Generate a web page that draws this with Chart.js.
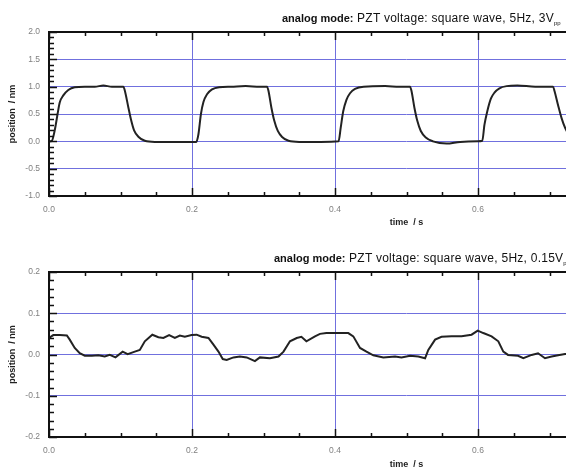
<!DOCTYPE html>
<html>
<head>
<meta charset="utf-8">
<script src="https://cdn.jsdelivr.net/npm/chart.js@4"></script>
<style>
    body { margin: 0; background: #fff; }
    #page { position: relative; width: 566px; height: 472px; overflow: hidden; background: #fff; }
    #page canvas { position: absolute; left: 0; }
    .title { position: absolute; white-space: nowrap; font-family: "Liberation Sans", Arial, sans-serif; color: #111; }
    .title b { font-size: 11px; }
    .title span { font-size: 12px; letter-spacing: 0.25px; }
    .title sub { font-size: 6px; vertical-align: -3px; letter-spacing: 0; }
</style>
</head>
<body>
<div id="page">
    <canvas id="chartTop" width="790" height="236" style="top:0"></canvas>
    <canvas id="chartBottom" width="790" height="232" style="top:240px"></canvas>
    <div class="title" style="left:282px; top:8px"><b>analog mode:</b><span> PZT voltage: square wave, 5Hz, 3V<sub>pp</sub></span></div>
    <div class="title" style="left:274px; top:248px"><b>analog mode:</b><span> PZT voltage: square wave, 5Hz, 0.15V<sub>pp</sub></span></div>
</div>
<script>
/* DATA */

// 3 Vpp square wave response
var topTimes = [
    0.000, 0.004, 0.008, 0.012, 0.015, 0.020, 0.027, 0.036, 0.050, 0.064, 0.076, 0.088, 0.104,
    0.106, 0.111, 0.115, 0.119, 0.125, 0.134, 0.148, 0.180, 0.206,
    0.209, 0.2125, 0.216, 0.221, 0.228, 0.238, 0.255, 0.275, 0.295, 0.305,
    0.307, 0.311, 0.315, 0.320, 0.326, 0.335, 0.350, 0.380, 0.405,
    0.408, 0.4115, 0.416, 0.421, 0.428, 0.440, 0.470, 0.490, 0.505,
    0.507, 0.511, 0.515, 0.520, 0.527, 0.537, 0.556, 0.575, 0.600, 0.606,
    0.609, 0.613, 0.618, 0.623, 0.630, 0.640, 0.655, 0.680, 0.705,
    0.707, 0.712, 0.717, 0.722, 0.728, 0.735
];
var topPositions = [
    0.00, 0.01, 0.20, 0.50, 0.71, 0.84, 0.94, 0.99, 1.00, 1.00, 1.02, 1.00, 1.00,
    0.93, 0.62, 0.38, 0.20, 0.085, 0.01, -0.01, -0.01, -0.01,
    0.13, 0.50, 0.72, 0.86, 0.95, 0.99, 1.00, 1.01, 1.00, 1.00,
    0.92, 0.62, 0.38, 0.19, 0.08, 0.01, -0.01, -0.01, 0.00,
    0.25, 0.55, 0.76, 0.88, 0.96, 1.00, 1.01, 1.00, 1.00,
    0.92, 0.62, 0.38, 0.19, 0.07, 0.00, -0.04, -0.01, 0.00, 0.01,
    0.30, 0.55, 0.78, 0.89, 0.97, 1.01, 1.02, 1.00, 1.00,
    0.92, 0.66, 0.42, 0.24, 0.10, 0.02
];

// 0.15 Vpp square wave response
var bottomTimes = [
    0.000, 0.006, 0.015, 0.025, 0.029, 0.036, 0.043, 0.050, 0.060, 0.069, 0.078, 0.085, 0.093,
    0.103, 0.110, 0.120, 0.127, 0.134, 0.1445, 0.153, 0.160, 0.168, 0.176, 0.183, 0.190, 0.1995,
    0.2065, 0.2135, 0.223, 0.230, 0.237, 0.243, 0.2485, 0.258, 0.267, 0.2765, 0.288, 0.295,
    0.309, 0.321, 0.328, 0.337, 0.3465, 0.353, 0.360, 0.372, 0.379, 0.388, 0.400, 0.4186,
    0.4256, 0.435, 0.444, 0.4536, 0.4676, 0.484, 0.493, 0.505, 0.5165, 0.526, 0.5305, 0.540,
    0.549, 0.563, 0.577, 0.591, 0.5996, 0.6074, 0.619, 0.6284, 0.6354, 0.642, 0.656, 0.6634,
    0.675, 0.684, 0.6937, 0.703, 0.712, 0.7217, 0.730
];
var bottomPositions = [
    0.040, 0.047, 0.047, 0.046, 0.036, 0.016, 0.003, -0.003, -0.003, -0.002, -0.005, -0.001, -0.007,
    0.007, 0.001, 0.007, 0.011, 0.032, 0.048, 0.042, 0.040, 0.047, 0.040, 0.046, 0.043, 0.047,
    0.048, 0.043, 0.040, 0.024, 0.007, -0.011, -0.013, -0.007, -0.005, -0.007, -0.016, -0.007,
    -0.009, -0.005, 0.007, 0.032, 0.040, 0.043, 0.032, 0.044, 0.050, 0.052, 0.052, 0.052,
    0.044, 0.016, 0.007, -0.002, -0.007, -0.005, -0.007, -0.003, -0.005, -0.009, 0.011, 0.036,
    0.043, 0.044, 0.044, 0.048, 0.058, 0.052, 0.044, 0.032, 0.007, -0.001, -0.003, -0.009,
    -0.001, 0.003, -0.009, -0.005, -0.002, 0.001, 0.002
];

(() => {
    /* STYLE */

    var gridBlue = 'rgb(112, 112, 222)';
    var fontFamily = '"Liberation Sans", Arial, sans-serif';

    /* PRIVATE */

    var isMultiple = (value, step) => Math.abs(value / step - Math.round(value / step)) < 1e-6;

    // frame + inward tick marks, placed through the scales (edge grid lines end up under the frame)
    var framePlugin = {
        id: 'frame',
        afterDatasetsDraw: (chart, args, opts) => {
            var ctx = chart.ctx;
            var area = chart.chartArea;
            var xScale = chart.scales.x;
            var yScale = chart.scales.y;

            ctx.save();
            ctx.strokeStyle = '#111';
            ctx.lineWidth = 1.5;
            ctx.beginPath();

            var nx = Math.round((xScale.max - xScale.min) / opts.xMinor);
            for (var i = 0; i <= nx; i++) {
                var xv = xScale.min + i * opts.xMinor;
                var px = Math.round(xScale.getPixelForValue(xv)) + 0.5;
                var xl = isMultiple(xv, opts.xMajor) ? 8 : 4;
                ctx.moveTo(px, area.bottom);
                ctx.lineTo(px, area.bottom - xl);
                ctx.moveTo(px, area.top);
                ctx.lineTo(px, area.top + xl);
            }

            var ny = Math.round((yScale.max - yScale.min) / opts.yMinor);
            for (var j = 0; j <= ny; j++) {
                var yv = yScale.min + j * opts.yMinor;
                var py = Math.round(yScale.getPixelForValue(yv)) + 0.5;
                var yl = isMultiple(yv, opts.yMajor) ? 8 : 5;
                ctx.moveTo(area.left, py);
                ctx.lineTo(area.left + yl, py);
                ctx.moveTo(area.right, py);
                ctx.lineTo(area.right - yl, py);
            }
            ctx.stroke();

            ctx.lineWidth = 2;
            ctx.strokeRect(area.left, area.top, area.right - area.left, area.bottom - area.top);
            ctx.restore();
        }
    };

    var getChartConfiguration = (settings) => {
        return {
            type: 'line',
            data: {
                datasets: [
                    {
                        data: settings.times.map((t, index) => ({ x: t, y: settings.positions[index] })),
                        borderColor: '#222',
                        borderWidth: 2,
                        pointRadius: 0,
                        fill: false,
                        tension: settings.tension,
                        cubicInterpolationMode: settings.tension > 0 ? 'monotone' : 'default'
                    }
                ]
            },
            plugins: [framePlugin],
            options: {
                responsive: false,
                animation: false,
                devicePixelRatio: 1,
                layout: { padding: { top: settings.top, right: 26, left: 0, bottom: 0 } },
                scales: {
                    x: {
                        type: 'linear',
                        min: 0,
                        max: 1.0,
                        afterFit: (scale) => { scale.height = settings.xAxisHeight; },
                        border: { display: false },
                        grid: { color: gridBlue, lineWidth: 1, drawTicks: false },
                        ticks: {
                            stepSize: 0.2,
                            maxRotation: 0,
                            padding: 9,
                            color: '#808080',
                            font: { family: fontFamily, size: 8.5 },
                            callback: (v) => v.toFixed(1)
                        },
                        title: {
                            display: true,
                            text: 'time  / s',
                            color: '#222',
                            font: { family: fontFamily, size: 9, weight: 'bold' },
                            padding: { top: 0, bottom: settings.xTitleGap }
                        }
                    },
                    y: {
                        min: settings.yMin,
                        max: settings.yMax,
                        afterFit: (scale) => { scale.width = 49; },
                        border: { display: false },
                        grid: { color: gridBlue, lineWidth: 1, drawTicks: false },
                        ticks: {
                            stepSize: settings.yMajor,
                            padding: 9,
                            color: '#808080',
                            font: { family: fontFamily, size: 8.5 },
                            callback: (v) => v.toFixed(1)
                        },
                        title: {
                            display: true,
                            text: 'position  / nm',
                            color: '#222',
                            font: { family: fontFamily, size: 9, weight: 'bold' },
                            padding: { top: 7, bottom: 0 }
                        }
                    }
                },
                plugins: {
                    title: { display: false },
                    legend: { display: false },
                    tooltip: { enabled: false },
                    frame: { xMinor: 0.05, xMajor: 0.2, yMinor: settings.yMinor, yMajor: settings.yMajor }
                }
            }
        };
    };

    /* PUBLIC */

    new Chart(document.getElementById('chartTop'), getChartConfiguration({
        times: topTimes, positions: topPositions, tension: 0.4,
        yMin: -1.0, yMax: 2.0, yMajor: 0.5, yMinor: 0.1,
        top: 32, xAxisHeight: 40, xTitleGap: 8
    }));

    new Chart(document.getElementById('chartBottom'), getChartConfiguration({
        times: bottomTimes, positions: bottomPositions, tension: 0,
        yMin: -0.2, yMax: 0.2, yMajor: 0.1, yMinor: 0.02,
        top: 32, xAxisHeight: 35, xTitleGap: 2
    }));
})();
</script>
</body>
</html>
